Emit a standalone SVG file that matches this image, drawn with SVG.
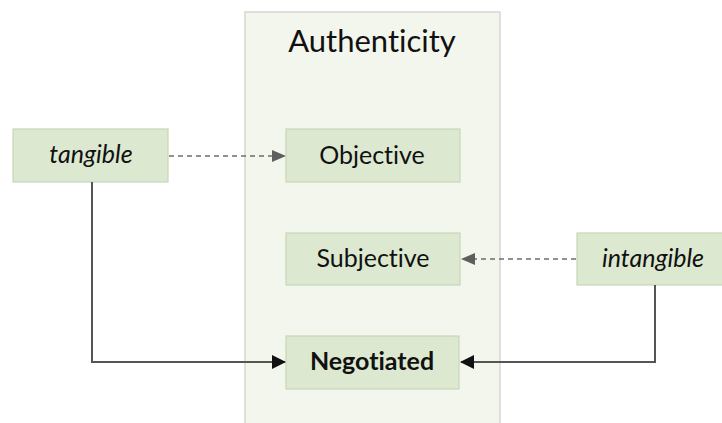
<svg xmlns="http://www.w3.org/2000/svg" width="722" height="423" viewBox="0 0 722 423">
  <style>
    .frame { fill: #f3f6ec; stroke: #d6d8d2; stroke-width: 1.5; }
    .box { fill: #dce9d0; stroke: #c6d7b6; stroke-width: 1.2; }
    text { font-family: Lato, "Open Sans", "Liberation Sans", sans-serif; fill: #111; text-anchor: middle; font-variant-ligatures: none; }
    .label { font-size: 25px; }
    .title { font-size: 31px; }
    .it { font-style: italic; }
    .bold { font-weight: bold; }
    .dash { fill: none; stroke: #6e6e6e; stroke-width: 1.5; stroke-dasharray: 5 4; }
    .solid { fill: none; stroke: #555; stroke-width: 2; }
  </style>
  <defs>
    <marker id="arrGray" markerWidth="14" markerHeight="12" refX="13" refY="6" orient="auto" markerUnits="userSpaceOnUse">
      <path d="M0,0 L14,6 L0,12 z" fill="#5e5e5e"/>
    </marker>
    <marker id="arrBlack" markerWidth="14" markerHeight="14" refX="13" refY="7" orient="auto" markerUnits="userSpaceOnUse">
      <path d="M0,0 L14,7 L0,14 z" fill="#111"/>
    </marker>
  </defs>
  <rect width="722" height="423" fill="#ffffff"/>

  <g id="authenticity">
    <rect class="frame" x="245" y="12" width="255" height="420"/>
    <text class="title" x="372" y="52">Authenticity</text>
  </g>

  <g id="objective">
    <rect class="box" x="286" y="129" width="174" height="53"/>
    <text class="label" x="372" y="164">Objective</text>
  </g>

  <g id="subjective">
    <rect class="box" x="286" y="233" width="174" height="52"/>
    <text class="label" x="373" y="267">Subjective</text>
  </g>

  <g id="negotiated">
    <rect class="box" x="286" y="336" width="173" height="53"/>
    <text class="label bold" x="372" y="370">Negotiated</text>
  </g>

  <g id="tangible">
    <rect class="box" x="13" y="129" width="155" height="53"/>
    <text class="label it" x="91" y="163">tangible</text>
  </g>

  <g id="intangible">
    <rect class="box" x="577" y="233" width="150" height="52"/>
    <text class="label it" x="653" y="267">intangible</text>
  </g>

  <g id="connectors">
    <path class="dash" d="M169,156 L285,156" marker-end="url(#arrGray)"/>
    <path class="dash" d="M576,259 L462,259" marker-end="url(#arrGray)"/>
    <path class="solid" d="M92,182 L92,362 L285,362" marker-end="url(#arrBlack)"/>
    <path class="solid" d="M655,285 L655,362 L461,362" marker-end="url(#arrBlack)"/>
  </g>
</svg>
